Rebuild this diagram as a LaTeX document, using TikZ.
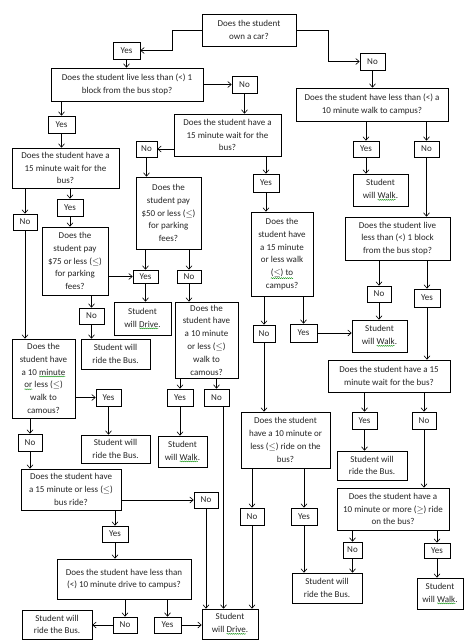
\documentclass[tikz,border=0pt]{standalone}
\usepackage{fontspec}
\setmainfont{Carlito}
\usetikzlibrary{arrows.meta,decorations.pathmorphing}
\newcommand\gw[1]{\tikz[baseline=(gwt.base)]{\node[inner sep=0pt,outer sep=0pt,minimum width=0pt,minimum height=0pt,draw=none,fill=none] (gwt) {#1};
  \draw[green!55!black, line width=0.35pt, decorate, decoration={snake,amplitude=0.5pt,segment length=2pt}] ([yshift=-1.2pt]gwt.south west) -- ([yshift=-1.2pt]gwt.south east);}}
\newcommand\bx[6]{\node[box, minimum width={(#4-#2)*1pt}, minimum height={(#5-#3)*1pt}] (#1) at ({(#2+#4)/2},{(#3+#5)/2}) {#6};}
\tikzset{
  box/.style={draw, line width=0.6pt, fill=white, align=center, inner sep=0.5pt,
    font=\fontsize{9}{12.8}\selectfont, text=black!85},
  arr/.style={line width=0.6pt, -{Straight Barb[length=3.5pt,width=6pt]}}
}
\begin{document}
\begin{tikzpicture}[x=1pt,y=-1pt]
\useasboundingbox[fill=white] (0,0) rectangle (467,640);
% top
\bx{q1}{202}{14}{296}{46}{Does the student\\own a car?}
\bx{y1}{113}{42}{140}{59}{Yes}
\bx{n1}{360}{53}{385}{70}{No}
\bx{q2}{51}{68}{203}{101}{Does the student live less than (<) 1\\block from the bus stop?}
\bx{n2}{232}{76}{257}{93}{No}
% right column
\bx{q3}{296}{88}{448}{121}{Does the student have less than (<) a\\10 minute walk to campus?}
\bx{y3}{353}{141}{379}{157}{Yes}
\bx{n3}{414}{141}{439}{157}{No}
\bx{w1}{353}{174}{408}{206}{Student\\will \gw{Walk}.}
\bx{q4}{345}{217}{450}{260}{Does the student live\\less than (<) 1 block\\from the bus stop?}
\bx{n4}{367}{286}{391}{302}{No}
\bx{y4}{414}{289}{440}{307}{Yes}
\bx{w2}{352}{320}{407}{352}{Student\\will \gw{Walk}.}
\bx{q5}{328}{360}{450}{392}{Does the student have a 15\\minute wait for the bus?}
\bx{y5}{352}{412}{377}{429}{Yes}
\bx{n5}{412}{412}{436}{429}{No}
\bx{b1}{337}{451}{407}{480}{Student will\\ride the Bus.}
\bx{q6}{337}{488}{449}{530}{Does the student have a\\10 minute or more ($\geq$) ride\\on the bus?}
\bx{n6}{343}{542}{362}{558}{No}
\bx{y6}{424}{543}{450}{558}{Yes}
\bx{b2}{292}{573}{362}{603}{Student will\\ride the Bus.}
\bx{w3}{417}{578}{463}{609}{Student\\will \gw{Walk}.}
% centre
\bx{q7}{174}{114}{281}{156}{Does the student have a\\15 minute wait for the\\bus?}
\bx{n7}{136}{141}{157}{157}{No}
\bx{q8}{136}{177}{201}{249}{Does the\\student pay\\\$50 or less ($\leq$)\\for parking\\fees?}
\bx{y8}{133}{270}{158}{283}{Yes}
\bx{n8}{177}{270}{201}{283}{No}
\bx{d1}{114}{302}{171}{335}{Student\\will \gw{Drive}.}
\bx{q9}{175}{302}{238}{378}{Does the\\student have\\a 10 minute\\or less ($\leq$)\\walk to\\camous?}
\bx{y9}{167}{389}{193}{406}{Yes}
\bx{n9}{204}{389}{229}{406}{No}
\bx{w4}{158}{436}{207}{467}{Student\\will \gw{Walk}.}
\bx{y7}{253}{174}{279}{192}{Yes}
\bx{q10}{251}{212}{313}{296}{Does the\\student have\\a 15 minute\\or less walk\\\gw{($\leq$) to}\\campus?}
\bx{n10}{253}{325}{275}{342}{No}
\bx{y10}{290}{324}{317}{342}{Yes}
\bx{q11}{241}{412}{330}{468}{Does the student\\have a 10 minute or\\less ($\leq$) ride on the\\bus?}
\bx{n11}{240}{508}{264}{525}{No}
\bx{y11}{291}{508}{317}{525}{Yes}
\bx{d2}{202}{609}{258}{639}{Student\\will \gw{Drive}.}
% left
\bx{y2}{48}{116}{75}{133}{Yes}
\bx{q12}{12}{148}{119}{188}{Does the student have a\\15 minute wait for the\\bus?}
\bx{n12}{13}{214}{37}{230}{No}
\bx{y12}{57}{199}{83}{216}{Yes}
\bx{q13}{42}{227}{108}{295}{Does the\\student pay\\\$75 or less ($\leq$)\\for parking\\fees?}
\bx{n13}{79}{308}{104}{324}{No}
\bx{b3}{81}{339}{150}{369}{Student will\\ride the Bus.}
\bx{q14}{12}{339}{75}{418}{Does the\\student have\\a 10 \gw{minute}\\\gw{or} less ($\leq$)\\walk to\\camous?}
\bx{y14}{96}{389}{121}{406}{Yes}
\bx{b4}{81}{435}{150}{463}{Student will\\ride the Bus.}
\bx{n14}{18}{434}{42}{451}{No}
\bx{q15}{21}{469}{121}{510}{Does the student have\\a 15 minute or less ($\leq$)\\bus ride?}
\bx{n15}{194}{492}{218}{508}{No}
\bx{y15}{102}{526}{128}{542}{Yes}
\bx{q16}{57}{559}{191}{599}{Does the student have less than\\(<) 10 minute drive to campus?}
\bx{n16}{113}{617}{137}{633}{No}
\bx{y16}{154}{617}{181}{633}{Yes}
\bx{b5}{22}{610}{92}{639}{Student will\\ride the Bus.}
% connectors
\draw[arr] (q1.west) -- ++(-29,0) |- (y1.east);
\draw[arr] (q1.east) -- ++(32,0) |- (n1.west);
\draw[arr] (y1.south) -- (q2.north -| y1);
\draw[arr] (q2.east |- n2) -- (n2.west);
\draw[arr] (n2.south) -- (q7.north -| n2);
\draw[arr] (q2.south -| y2) -- (y2.north);
\draw[arr] (y2.south) -- (q12.north -| y2);
\draw[arr] (n1.south) -- (q3.north -| n1);
\draw[arr] (q3.south -| y3) -- (y3.north);
\draw[arr] (q3.south -| n3) -- (n3.north);
\draw[arr] (y3.south) -- (w1.north -| y3);
\draw[arr] (n3.south) -- (q4.north -| n3);
\draw[arr] (q4.south -| n4) -- (n4.north);
\draw[arr] (q4.south -| y4) -- (y4.north);
\draw[arr] (n4.south) -- (w2.north -| n4);
\draw[arr] (y4.south) -- (q5.north -| y4);
\draw[arr] (q5.south -| y5) -- (y5.north);
\draw[arr] (q5.south -| n5) -- (n5.north);
\draw[arr] (y5.south) -- (b1.north -| y5);
\draw[arr] (n5.south) -- (q6.north -| n5);
\draw[arr] (q6.south -| n6) -- (n6.north);
\draw[arr] (q6.south -| y6) -- (y6.north);
\draw[arr] (n6.south) -- (b2.north -| n6);
\draw[arr] (y6.south) -- (w3.north -| y6);
\draw[arr] (q7.west |- n7) -- (n7.east);
\draw[arr] (q7.south -| y7) -- (y7.north);
\draw[arr] (n7.south) -- (q8.north -| n7);
\draw[arr] (y7.south) -- (q10.north -| y7);
\draw[arr] (q8.south -| y8) -- (y8.north);
\draw[arr] (q8.south -| n8) -- (n8.north);
\draw[arr] (y8.south) -- (d1.north -| y8);
\draw[arr] (n8.south) -- (q9.north -| n8);
\draw[arr] (q9.south -| y9) -- (y9.north);
\draw[arr] (q9.south -| n9) -- (n9.north);
\draw[arr] (y9.south) -- (w4.north -| y9);
\draw[arr] ([xshift=7pt]n9.south) -- ([xshift=7pt]n9.south |- d2.north);
\draw[arr] (q10.south -| n10) -- (n10.north);
\draw[arr] (q10.south -| y10) -- (y10.north);
\draw[arr] (y10.east) -- (y10.east -| w2.west);
\draw[arr] (n10.south) -- (q11.north -| n10);
\draw[arr] (q11.south -| n11) -- (n11.north);
\draw[arr] (q11.south -| y11) -- (y11.north);
\draw[arr] (n11.south) -- (d2.north -| n11);
\draw[arr] (y11.south) -- (b2.north -| y11);
\draw[arr] (q12.south -| n12) -- (n12.north);
\draw[arr] (q12.south -| y12) -- (y12.north);
\draw[arr] (y12.south) -- (q13.north -| y12);
\draw[arr] (q13.east |- y8) -- (y8.west);
\draw[arr] (q13.south -| n13) -- (n13.north);
\draw[arr] (n13.south) -- (b3.north -| n13);
\draw[arr] (n12.south) -- (q14.north -| n12);
\draw[arr] (q14.east |- y14) -- (y14.west);
\draw[arr] (y14.south) -- (b4.north -| y14);
\draw[arr] (q14.south -| n14) -- (n14.north);
\draw[arr] (n14.south) -- (q15.north -| n14);
\draw[arr] (q15.east |- n15) -- (n15.west);
\draw[arr] (n15.south) -- (d2.north -| n15);
\draw[arr] (q15.south -| y15) -- (y15.north);
\draw[arr] (y15.south) -- (q16.north -| y15);
\draw[arr] (q16.south -| n16) -- (n16.north);
\draw[arr] (q16.south -| y16) -- (y16.north);
\draw[arr] (n16.west) -- (n16.west -| b5.east);
\draw[arr] (y16.east) -- (y16.east -| d2.west);
\end{tikzpicture}
\end{document}
